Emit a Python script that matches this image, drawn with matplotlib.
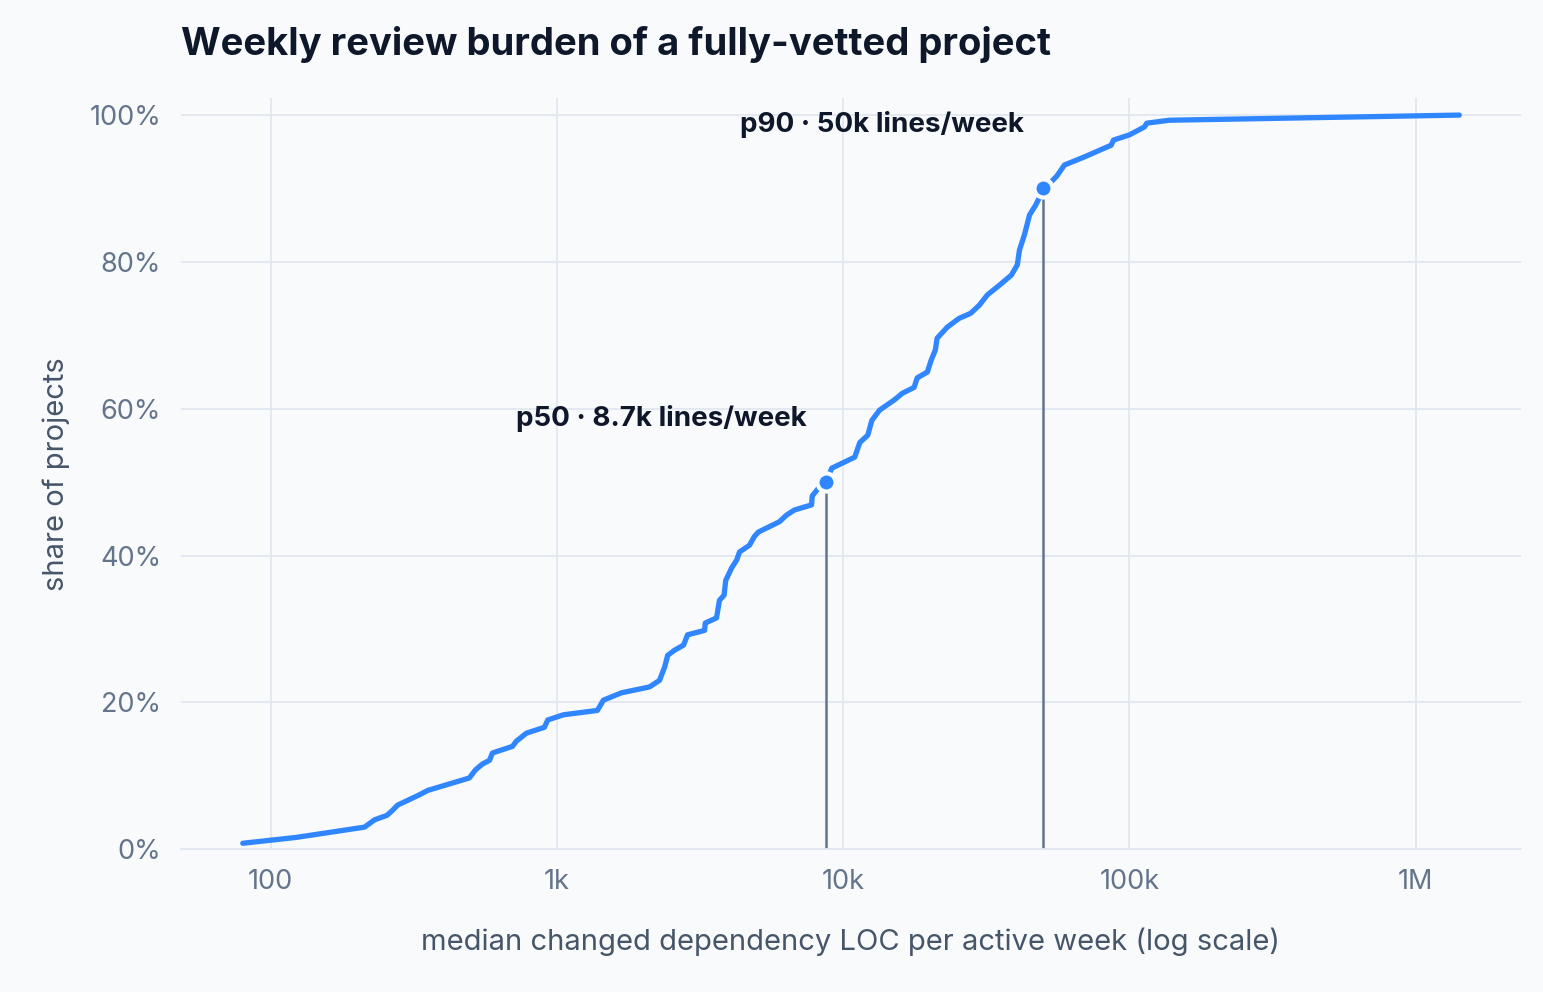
import matplotlib
matplotlib.use("Agg")
import matplotlib.pyplot as plt
from matplotlib.ticker import FuncFormatter

plt.rcParams['font.family'] = ['Inter', 'DejaVu Sans']

loc = [80,123,213,231,255,267,278,331,354,495,520,550,582,596,700,722,783,905,930,1054,1386,1455,1682,2108,2285,2380,2440,2578,2772,2862,3282,3300,3613,3700,3840,3890,4080,4250,4350,4710,4900,5060,5990,6340,6760,7760,7800,8130,8700,9130,10980,11440,12200,12600,13400,15100,16100,17700,18150,19700,20300,21000,21300,23100,25400,27900,29900,31900,35100,38700,40600,41300,43000,44800,47000,50000,55800,59300,69600,78600,86400,88000,100000,113000,115000,138000,1420000]
share = [0.8,1.6,3.0,4.0,4.6,5.3,6.0,7.4,8.0,9.7,10.8,11.6,12.1,13.1,14.0,14.7,15.8,16.6,17.6,18.3,18.9,20.3,21.3,22.1,23.0,24.8,26.4,27.1,27.8,29.2,29.8,30.8,31.5,33.9,34.6,36.6,38.3,39.4,40.5,41.4,42.6,43.2,44.6,45.5,46.2,46.9,48.1,49.0,50.0,51.9,53.4,55.4,56.4,58.4,59.8,61.2,62.1,62.9,64.2,65.0,66.6,68.0,69.6,71.1,72.3,73.0,74.1,75.5,76.8,78.2,79.6,81.6,83.7,86.4,87.7,89.8,91.7,93.2,94.3,95.2,95.9,96.6,97.3,98.4,98.9,99.3,100.0]
pct_x = [8700, 50000]
pct_y = [50, 90]
pct_labels = ["p50 · 8.7k lines/week", "p90 · 50k lines/week"]

bg = "#f8fafc"
fig = plt.figure(figsize=(15.43, 9.92), dpi=100, facecolor=bg)
ax = fig.add_axes([0.117, 0.144, 0.869, 0.757], facecolor=bg)
ax.set_xscale('log')
ax.set_xlim(48.5, 2.34e6)
ax.set_ylim(0, 102.3)
ax.grid(True, color="#e2e8f0", linewidth=1.3)
ax.set_axisbelow(True)
for s in ['top', 'right', 'left']:
    ax.spines[s].set_visible(False)
ax.spines['bottom'].set_color("#e2e8f0")
ax.spines['bottom'].set_linewidth(1.3)
ax.set_xticks([100, 1000, 10000, 100000, 1000000])
ax.set_xticklabels(["100", "1k", "10k", "100k", "1M"])
ax.minorticks_off()
ax.set_yticks([0, 20, 40, 60, 80, 100])
ax.yaxis.set_major_formatter(FuncFormatter(lambda v, p: f"{v:.0f}%"))
ax.tick_params(length=0, labelsize=19.5, colors="#64748b", pad=14)

ax.plot(loc, share, color="#2f86ff", linewidth=3.8, solid_capstyle='round', zorder=3)
for x, y, lab in zip(pct_x, pct_y, pct_labels):
    ax.vlines(x, 0, y, color="#64748b", linewidth=1.8, zorder=2)
    ax.scatter([x], [y], s=170, color="#2f86ff", edgecolor=bg, linewidth=3, zorder=4)
    ax.annotate(lab, (x, y), xytext=(-14, 46), textcoords='offset points',
                ha='right', va='center', fontsize=20, fontweight='bold', color="#0f172a")

ax.set_xlabel("median changed dependency LOC per active week (log scale)", fontsize=21, color="#475569", labelpad=24)
ax.set_ylabel("share of projects", fontsize=21, color="#475569", labelpad=14)
fig.text(0.117, 0.955, "Weekly review burden of a fully-vetted project", fontsize=27.5, fontweight='bold', color="#0f172a", va='center')
fig.savefig("out.png", dpi=100, facecolor=bg)
